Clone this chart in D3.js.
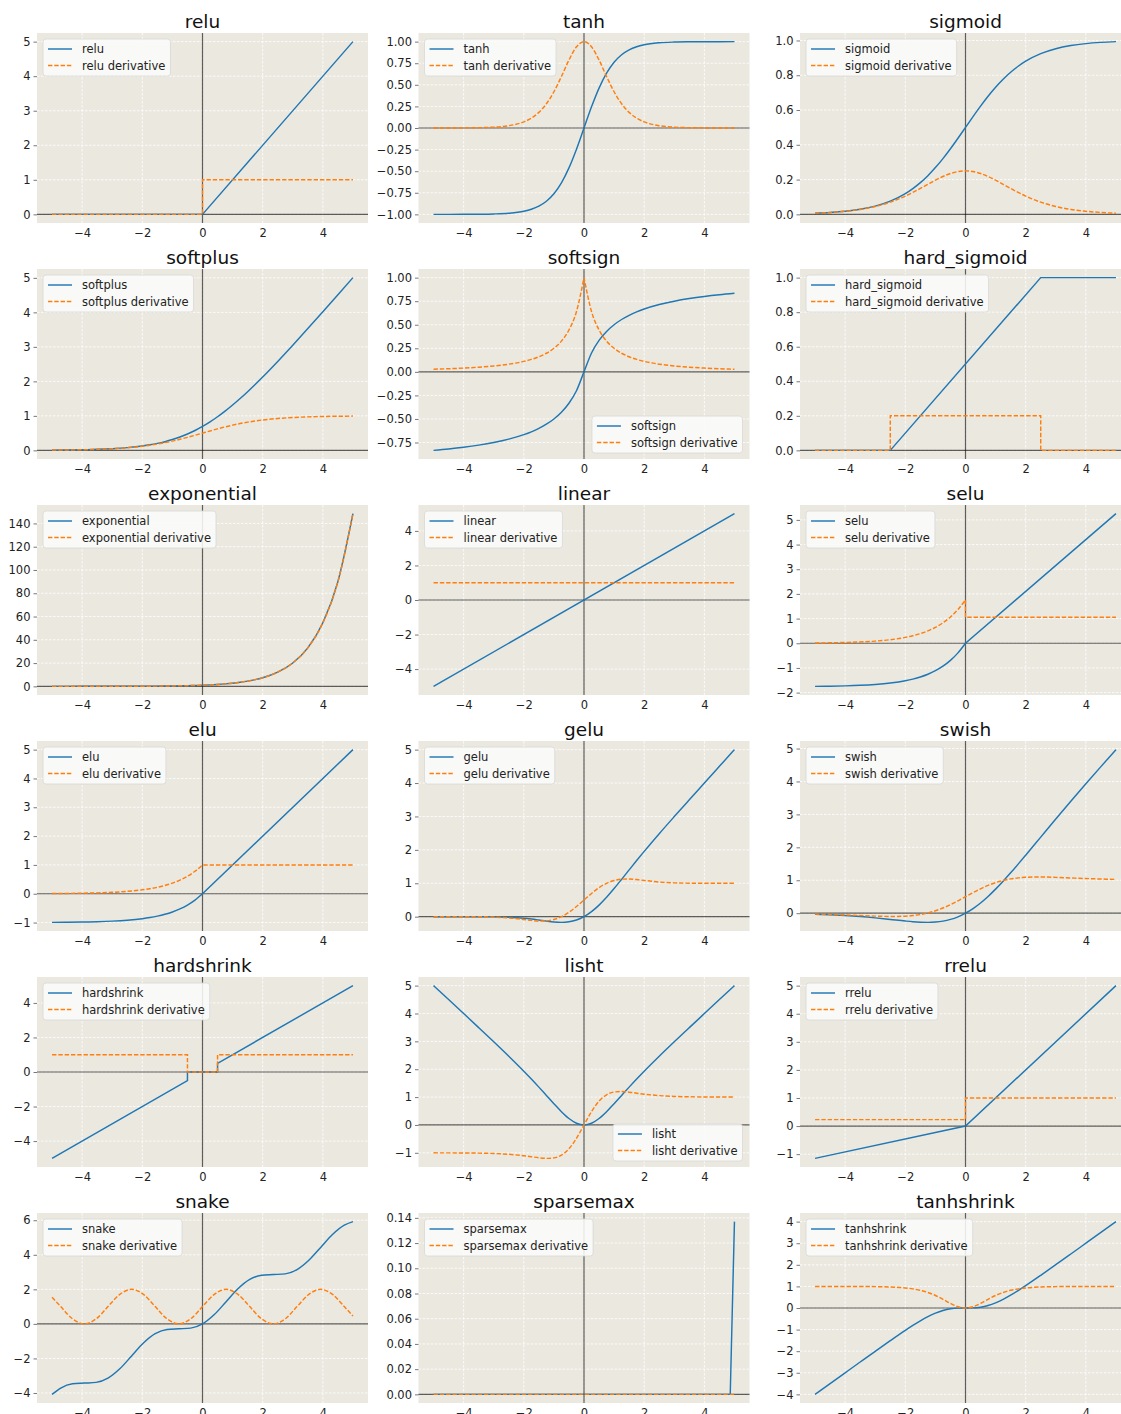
<!DOCTYPE html>
<html>
<head>
<meta charset="utf-8">
<script src="https://cdn.jsdelivr.net/npm/d3@7"></script>
<style>
  body { margin: 0; background: #fff; }
  svg { display: block; }
  text { font-family: "DejaVu Sans", "Liberation Sans", sans-serif; }
</style>
</head>
<body>
<svg id="fig" width="1121" height="1414"></svg>
<script>
// ---------- sample positions ----------
const xNeg = [-5, -4.5, -4, -3.5, -3, -2.5, -2, -1.75, -1.5, -1.25, -1, -0.75, -0.5, -0.25, 0];
const xPos = [0, 0.25, 0.5, 0.75, 1, 1.25, 1.5, 1.75, 2, 2.5, 3, 3.5, 4, 4.5, 5];
const xGrid = xNeg.concat(xPos.slice(1));          // smooth curves
const xSplit = xNeg.concat(xPos);                   // curves with a break at 0
const xTicks = [-4, -2, 0, 2, 4];

// ---------- relu ----------
const reluX = [-5, 0, 0, 5];
const reluY = [0, 0, 0, 5];
const reluDX = [-5, 0, 0, 5];
const reluDY = [0, 0, 1, 1];

// ---------- tanh ----------
const tanhY = [-0.9999, -0.9998, -0.9993, -0.9982, -0.9951, -0.9866, -0.9640, -0.9414, -0.9051, -0.8483, -0.7616, -0.6351, -0.4621, -0.2449, 0,
  0.2449, 0.4621, 0.6351, 0.7616, 0.8483, 0.9051, 0.9414, 0.9640, 0.9866, 0.9951, 0.9982, 0.9993, 0.9998, 0.9999];
const tanhDY = [0.0002, 0.0005, 0.0013, 0.0036, 0.0099, 0.0266, 0.0707, 0.1138, 0.1807, 0.2804, 0.4200, 0.5966, 0.7864, 0.9400, 1,
  0.9400, 0.7864, 0.5966, 0.4200, 0.2804, 0.1807, 0.1138, 0.0707, 0.0266, 0.0099, 0.0036, 0.0013, 0.0005, 0.0002];

// ---------- sigmoid ----------
const sigmoidY = [0.0067, 0.0110, 0.0180, 0.0293, 0.0474, 0.0759, 0.1192, 0.1481, 0.1824, 0.2227, 0.2689, 0.3208, 0.3775, 0.4378, 0.5,
  0.5622, 0.6225, 0.6792, 0.7311, 0.7773, 0.8176, 0.8519, 0.8808, 0.9241, 0.9526, 0.9707, 0.9820, 0.9890, 0.9933];
const sigmoidDY = [0.0066, 0.0109, 0.0177, 0.0284, 0.0452, 0.0701, 0.1050, 0.1262, 0.1491, 0.1731, 0.1966, 0.2179, 0.2350, 0.2461, 0.25,
  0.2461, 0.2350, 0.2179, 0.1966, 0.1731, 0.1491, 0.1262, 0.1050, 0.0701, 0.0452, 0.0284, 0.0177, 0.0109, 0.0066];

// ---------- softplus ----------
const softplusY = [0.0067, 0.0110, 0.0181, 0.0298, 0.0486, 0.0789, 0.1269, 0.1602, 0.2014, 0.2519, 0.3133, 0.3869, 0.4741, 0.5759, 0.6931,
  0.8259, 0.9741, 1.1369, 1.3133, 1.5019, 1.7014, 1.9102, 2.1269, 2.5789, 3.0486, 3.5298, 4.0181, 4.5110, 5.0067];
const softplusDY = [0.0067, 0.0110, 0.0180, 0.0293, 0.0474, 0.0759, 0.1192, 0.1481, 0.1824, 0.2227, 0.2689, 0.3208, 0.3775, 0.4378, 0.5,
  0.5622, 0.6225, 0.6792, 0.7311, 0.7773, 0.8176, 0.8519, 0.8808, 0.9241, 0.9526, 0.9707, 0.9820, 0.9890, 0.9933];

// ---------- softsign ----------
const softsignY = [-0.8333, -0.8182, -0.8, -0.7778, -0.75, -0.7143, -0.6667, -0.6364, -0.6, -0.5556, -0.5, -0.4286, -0.3333, -0.2, 0,
  0.2, 0.3333, 0.4286, 0.5, 0.5556, 0.6, 0.6364, 0.6667, 0.7143, 0.75, 0.7778, 0.8, 0.8182, 0.8333];
const softsignDY = [0.0278, 0.0331, 0.04, 0.0494, 0.0625, 0.0816, 0.1111, 0.1322, 0.16, 0.1975, 0.25, 0.3265, 0.4444, 0.64, 1,
  1, 0.64, 0.4444, 0.3265, 0.25, 0.1975, 0.16, 0.1322, 0.1111, 0.0816, 0.0625, 0.0494, 0.04, 0.0331, 0.0278];

// ---------- hard_sigmoid ----------
const hardSigmoidX = [-5, -2.5, -2.5, 2.5, 2.5, 5];
const hardSigmoidY = [0, 0, 0, 1, 1, 1];
const hardSigmoidDY = [0, 0, 0.2, 0.2, 0, 0];

// ---------- exponential ----------
const expY = [0.0067, 0.0111, 0.0183, 0.0302, 0.0498, 0.0821, 0.1353, 0.1738, 0.2231, 0.2865, 0.3679, 0.4724, 0.6065, 0.7788, 1,
  1.2840, 1.6487, 2.1170, 2.7183, 3.4903, 4.4817, 5.7546, 7.3891, 12.1825, 20.0855, 33.1155, 54.5982, 90.0171, 148.4132];
const expDY = [0.0067, 0.0111, 0.0183, 0.0302, 0.0498, 0.0821, 0.1353, 0.1738, 0.2231, 0.2865, 0.3679, 0.4724, 0.6065, 0.7788, 1,
  1.2840, 1.6487, 2.1170, 2.7183, 3.4903, 4.4817, 5.7546, 7.3891, 12.1825, 20.0855, 33.1155, 54.5982, 90.0171, 148.4132];

// ---------- linear ----------
const linearX = [-5, 5];
const linearY = [-5, 5];
const linearDY = [1, 1];

// ---------- selu ----------
const seluX = xNeg.concat([0, 5]);
const seluY = [-1.7463, -1.7386, -1.7259, -1.7050, -1.6705, -1.6138, -1.5202, -1.4525, -1.3659, -1.2544, -1.1113, -0.9276, -0.6918, -0.3889, 0,
  0, 5.2535];
const seluDY = [0.0118, 0.0195, 0.0322, 0.0531, 0.0876, 0.1443, 0.2379, 0.3055, 0.3923, 0.5037, 0.6468, 0.8305, 1.0663, 1.3692, 1.7581,
  1.0507, 1.0507];

// ---------- elu ----------
const eluX = xNeg.concat([0, 5]);
const eluY = [-0.9933, -0.9889, -0.9817, -0.9698, -0.9502, -0.9179, -0.8647, -0.8262, -0.7769, -0.7135, -0.6321, -0.5276, -0.3935, -0.2212, 0,
  0, 5];
const eluDY = [0.0067, 0.0111, 0.0183, 0.0302, 0.0498, 0.0821, 0.1353, 0.1738, 0.2231, 0.2865, 0.3679, 0.4724, 0.6065, 0.7788, 1,
  1, 1];

// ---------- gelu ----------
const geluY = [0, 0, -0.0001, -0.0008, -0.0040, -0.0155, -0.0455, -0.0702, -0.1002, -0.1320, -0.1587, -0.1699, -0.1543, -0.1003, 0,
  0.1497, 0.3457, 0.5801, 0.8413, 1.1180, 1.3998, 1.6798, 1.9545, 2.4845, 2.9960, 3.4992, 3.9999, 4.5, 5];
const geluDY = [0, 0, -0.0005, -0.0030, -0.0119, -0.0376, -0.0852, -0.1109, -0.1275, -0.1227, -0.0833, 0.0008, 0.1325, 0.3046, 0.5,
  0.6954, 0.8675, 0.9992, 1.0833, 1.1227, 1.1275, 1.1109, 1.0852, 1.0376, 1.0119, 1.0030, 1.0005, 1.0, 1];

// ---------- swish ----------
const swishY = [-0.0335, -0.0495, -0.0719, -0.1025, -0.1423, -0.1897, -0.2384, -0.2592, -0.2736, -0.2784, -0.2689, -0.2406, -0.1888, -0.1094, 0,
  0.1406, 0.3112, 0.5094, 0.7311, 0.9716, 1.2264, 1.4908, 1.7616, 2.3103, 2.8577, 3.3975, 3.9281, 4.4505, 4.9665];
const swishDY = [-0.0263, -0.0381, -0.0528, -0.0701, -0.0882, -0.0994, -0.0908, -0.0728, -0.0413, 0.0063, 0.0723, 0.1574, 0.2600, 0.3763, 0.5,
  0.6237, 0.7400, 0.8426, 0.9277, 0.9937, 1.0413, 1.0728, 1.0908, 1.0994, 1.0882, 1.0701, 1.0528, 1.0381, 1.0263];

// ---------- hardshrink ----------
const hardshrinkX = [-5, -0.5, -0.5, 0.5, 0.5, 5];
const hardshrinkY = [-5, -0.5, 0, 0, 0.5, 5];
const hardshrinkDY = [1, 1, 0, 0, 1, 1];

// ---------- lisht ----------
const lishtY = [4.9995, 4.4991, 3.9973, 3.4937, 2.9852, 2.4665, 1.9281, 1.6475, 1.3577, 1.0604, 0.7616, 0.4763, 0.2311, 0.0612, 0,
  0.0612, 0.2311, 0.4763, 0.7616, 1.0604, 1.3577, 1.6475, 1.9281, 2.4665, 2.9852, 3.4937, 3.9973, 4.4991, 4.9995];
const lishtDY = [-1.0008, -1.0020, -1.0047, -1.0107, -1.0247, -1.0531, -1.1053, -1.1406, -1.1762, -1.1988, -1.1816, -1.0826, -0.8553, -0.4799, 0,
  0.4799, 0.8553, 1.0826, 1.1816, 1.1988, 1.1762, 1.1406, 1.1053, 1.0531, 1.0247, 1.0107, 1.0047, 1.0020, 1.0008];

// ---------- rrelu ----------
const rreluX = [-5, 0, 0, 5];
const rreluY = [-1.15, 0, 0, 5];
const rreluDY = [0.23, 0.23, 1, 1];

// ---------- snake ----------
const snakeX = [-5, -4.7124, -4.3197, -3.9270, -3.5343, -3.1416, -2.7489, -2.3562, -1.9635, -1.5708, -1.1781, -0.7854, -0.3927, 0,
  0.3927, 0.7854, 1.1781, 1.5708, 1.9635, 2.3562, 2.7489, 3.1416, 3.5343, 3.9270, 4.3197, 4.7124, 5];
const snakeY = [-4.0805, -3.7124, -3.4661, -3.4270, -3.3879, -3.1416, -2.6025, -1.8562, -1.1099, -0.5708, -0.3245, -0.2854, -0.2463, 0,
  0.5391, 1.2854, 2.0317, 2.5708, 2.8171, 2.8562, 2.8953, 3.1416, 3.6807, 4.4270, 5.1733, 5.7124, 5.9195];
const snakeDY = [1.5440, 1, 0.2929, 0, 0.2929, 1, 1.7071, 2, 1.7071, 1, 0.2929, 0, 0.2929, 1,
  1.7071, 2, 1.7071, 1, 0.2929, 0, 0.2929, 1, 1.7071, 2, 1.7071, 1, 0.4560];

// ---------- sparsemax ----------
const sparsemaxX = [-5, 4.86, 4.86, 5];
const sparsemaxY = [0, 0, 0, 0.137];
const sparsemaxDX = [-5, 5];
const sparsemaxDY = [0, 0];

// ---------- tanhshrink ----------
const tanhshrinkY = [-4.0001, -3.5002, -3.0007, -2.5018, -2.0049, -1.5134, -1.0360, -0.8086, -0.5949, -0.4017, -0.2384, -0.1149, -0.0379, -0.0051, 0,
  0.0051, 0.0379, 0.1149, 0.2384, 0.4017, 0.5949, 0.8086, 1.0360, 1.5134, 2.0049, 2.5018, 3.0007, 3.5002, 4.0001];
const tanhshrinkDY = [0.9998, 0.9995, 0.9987, 0.9964, 0.9901, 0.9734, 0.9293, 0.8862, 0.8193, 0.7196, 0.5800, 0.4034, 0.2135, 0.0600, 0,
  0.0600, 0.2135, 0.4034, 0.5800, 0.7196, 0.8193, 0.8862, 0.9293, 0.9734, 0.9901, 0.9964, 0.9987, 0.9995, 0.9998];

// ---------- y tick labels ----------
const ticksZeroToFive = [0, 1, 2, 3, 4, 5];
const ticksTanh = [-1, -0.75, -0.5, -0.25, 0, 0.25, 0.5, 0.75, 1];
const ticksUnit = [0, 0.2, 0.4, 0.6, 0.8, 1];
const ticksSoftsign = [-0.75, -0.5, -0.25, 0, 0.25, 0.5, 0.75, 1];
const ticksExp = [0, 20, 40, 60, 80, 100, 120, 140];
const ticksEven = [-4, -2, 0, 2, 4];
const ticksSelu = [-2, -1, 0, 1, 2, 3, 4, 5];
const ticksMinusOneToFive = [-1, 0, 1, 2, 3, 4, 5];
const ticksSnake = [-4, -2, 0, 2, 4, 6];
const ticksSparsemax = [0, 0.02, 0.04, 0.06, 0.08, 0.1, 0.12, 0.14];
const ticksTanhshrink = [-4, -3, -2, -1, 0, 1, 2, 3, 4];

// panel table: name, function samples, derivative samples, y ticks, decimals, legend corner
const panels = [
  { name: "relu", fx: reluX, fy: reluY, dx: reluDX, dy: reluDY, ticks: ticksZeroToFive, dec: 0, loc: "ul" },
  { name: "tanh", fx: xGrid, fy: tanhY, dx: xGrid, dy: tanhDY, ticks: ticksTanh, dec: 2, loc: "ul" },
  { name: "sigmoid", fx: xGrid, fy: sigmoidY, dx: xGrid, dy: sigmoidDY, ticks: ticksUnit, dec: 1, loc: "ul" },
  { name: "softplus", fx: xGrid, fy: softplusY, dx: xGrid, dy: softplusDY, ticks: ticksZeroToFive, dec: 0, loc: "ul" },
  { name: "softsign", fx: xGrid, fy: softsignY, dx: xSplit, dy: softsignDY, ticks: ticksSoftsign, dec: 2, loc: "lr" },
  { name: "hard_sigmoid", fx: hardSigmoidX, fy: hardSigmoidY, dx: hardSigmoidX, dy: hardSigmoidDY, ticks: ticksUnit, dec: 1, loc: "ul" },
  { name: "exponential", fx: xGrid, fy: expY, dx: xGrid, dy: expDY, ticks: ticksExp, dec: 0, loc: "ul" },
  { name: "linear", fx: linearX, fy: linearY, dx: linearX, dy: linearDY, ticks: ticksEven, dec: 0, loc: "ul" },
  { name: "selu", fx: seluX, fy: seluY, dx: seluX, dy: seluDY, ticks: ticksSelu, dec: 0, loc: "ul" },
  { name: "elu", fx: eluX, fy: eluY, dx: eluX, dy: eluDY, ticks: ticksMinusOneToFive, dec: 0, loc: "ul" },
  { name: "gelu", fx: xGrid, fy: geluY, dx: xGrid, dy: geluDY, ticks: ticksZeroToFive, dec: 0, loc: "ul" },
  { name: "swish", fx: xGrid, fy: swishY, dx: xGrid, dy: swishDY, ticks: ticksZeroToFive, dec: 0, loc: "ul" },
  { name: "hardshrink", fx: hardshrinkX, fy: hardshrinkY, dx: hardshrinkX, dy: hardshrinkDY, ticks: ticksEven, dec: 0, loc: "ul" },
  { name: "lisht", fx: xGrid, fy: lishtY, dx: xGrid, dy: lishtDY, ticks: ticksMinusOneToFive, dec: 0, loc: "lr" },
  { name: "rrelu", fx: rreluX, fy: rreluY, dx: rreluX, dy: rreluDY, ticks: ticksMinusOneToFive, dec: 0, loc: "ul" },
  { name: "snake", fx: snakeX, fy: snakeY, dx: snakeX, dy: snakeDY, ticks: ticksSnake, dec: 0, loc: "ul" },
  { name: "sparsemax", fx: sparsemaxX, fy: sparsemaxY, dx: sparsemaxDX, dy: sparsemaxDY, ticks: ticksSparsemax, dec: 2, loc: "ul" },
  { name: "tanhshrink", fx: xGrid, fy: tanhshrinkY, dx: xGrid, dy: tanhshrinkDY, ticks: ticksTanhshrink, dec: 0, loc: "ul" }
];

// ---------- layout & style ----------
const W = 331, H = 190;
const COL_STEP = 381.5, ROW_STEP = 236, LEFT0 = 37, TOP0 = 33;
const BG = "#ebe8e0";
const BLUE = "#1f77b4", ORANGE = "#ff7f0e";
const DASH = "4.4,1.9";
const LW = 1.45;

const svg = d3.select("#fig");
svg.append("rect").attr("width", 1121).attr("height", 1414).attr("fill", "#fff");

const minus = s => s.replace(/-/g, "\u2212");

// one path through all pieces; a repeated x value starts a new piece that is
// joined to the previous one with a straight segment (jumps and kinks)
function buildPath(xs, ys, xs_, ys_) {
  const pieces = [];
  let cur = [];
  xs.forEach((xv, i) => {
    if (i > 0 && xv === xs[i - 1]) { pieces.push(cur); cur = []; }
    cur.push([xs_(xv), ys_(ys[i])]);
  });
  pieces.push(cur);
  const gen = d3.line().curve(d3.curveMonotoneX);
  return pieces.map((p, i) => {
    let d = gen(p).replace(/Z$/, "");
    return i === 0 ? d : "L" + d.slice(1);
  }).join("");
}

panels.forEach((p, idx) => {
  const col = idx % 3, row = Math.floor(idx / 3);
  const L = LEFT0 + col * COL_STEP, T = TOP0 + row * ROW_STEP;
  const g = svg.append("g").attr("transform", `translate(${L},${T})`);

  // autoscaled y range with 5% margins (zero line included)
  const all = p.fy.concat(p.dy, [0]);
  const lo = d3.min(all), hi = d3.max(all), m = (hi - lo) * 0.05;
  const x = d3.scaleLinear().domain([-5.5, 5.5]).range([0, W]);
  const y = d3.scaleLinear().domain([lo - m, hi + m]).range([H, 0]);

  const clipId = "clip" + idx;
  g.append("clipPath").attr("id", clipId).append("rect").attr("width", W).attr("height", H);

  g.append("rect").attr("width", W).attr("height", H).attr("fill", BG);

  // grid
  const grid = g.append("g").attr("stroke", "#fff").attr("stroke-width", 0.8)
    .attr("stroke-dasharray", "2.5,1.5");
  grid.selectAll(".gx").data(xTicks).join("line")
    .attr("x1", d => x(d)).attr("x2", d => x(d)).attr("y1", 0).attr("y2", H);
  grid.selectAll(".gy").data(p.ticks).join("line")
    .attr("y1", d => y(d)).attr("y2", d => y(d)).attr("x1", 0).attr("x2", W);

  // y axis
  const fmt = d3.format(`.${p.dec}f`);
  const yAxis = d3.axisLeft(y).tickValues(p.ticks).tickSize(3.5).tickPadding(3)
    .tickFormat(d => minus(fmt(d)));
  const ya = g.append("g").call(yAxis);
  ya.select(".domain").remove();
  ya.selectAll(".tick line").attr("stroke", "#555").attr("stroke-width", 0.8);
  ya.selectAll(".tick text").attr("fill", "#222").style("font-size", "11.5px")
    .style("font-family", '"DejaVu Sans", sans-serif');

  // x axis
  const xAxis = d3.axisBottom(x).tickValues(xTicks).tickSize(0).tickPadding(6)
    .tickFormat(d => minus(d3.format("d")(d)));
  const xa = g.append("g").attr("transform", `translate(0,${H})`).call(xAxis);
  xa.select(".domain").remove();
  xa.selectAll(".tick text").attr("fill", "#222").style("font-size", "11.5px")
    .style("font-family", '"DejaVu Sans", sans-serif');

  // zero lines
  const zl = g.append("g").attr("stroke", "#000").attr("stroke-opacity", 0.62).attr("stroke-width", 1.2);
  zl.append("line").attr("x1", 0).attr("x2", W).attr("y1", y(0)).attr("y2", y(0));
  zl.append("line").attr("x1", x(0)).attr("x2", x(0)).attr("y1", 0).attr("y2", H);

  // curves
  const curves = g.append("g").attr("clip-path", `url(#${clipId})`).attr("fill", "none");
  curves.append("path").attr("d", buildPath(p.fx, p.fy, x, y))
    .attr("stroke", BLUE).attr("stroke-width", LW);
  curves.append("path").attr("d", buildPath(p.dx, p.dy, x, y))
    .attr("stroke", ORANGE).attr("stroke-width", LW).attr("stroke-dasharray", DASH);

  // title
  g.append("text").attr("x", W / 2).attr("y", -5).attr("text-anchor", "middle")
    .style("font-size", "18.5px").attr("fill", "#111").text(p.name);

  // legend
  const lg = g.append("g");
  const box = lg.append("rect").attr("rx", 3).attr("ry", 3)
    .attr("fill", "#fbfbf9").attr("fill-opacity", 0.88)
    .attr("stroke", "#d8d8d8").attr("stroke-width", 0.8);
  const labels = [p.name, p.name + " derivative"];
  let maxW = 0;
  labels.forEach((lab, i) => {
    const cy = 10 + i * 16.5;
    lg.append("line").attr("x1", 5).attr("x2", 29).attr("y1", cy).attr("y2", cy)
      .attr("stroke", i === 0 ? BLUE : ORANGE).attr("stroke-width", LW)
      .attr("stroke-dasharray", i === 0 ? null : DASH);
    const t = lg.append("text").attr("x", 39).attr("y", cy + 4.2)
      .style("font-size", "11.5px").attr("fill", "#222").text(lab);
    maxW = Math.max(maxW, t.node().getComputedTextLength());
  });
  const bw = 39 + maxW + 5, bh = 37;
  box.attr("width", bw).attr("height", bh);
  if (p.loc === "ul") {
    lg.attr("transform", `translate(6,6)`);
  } else {
    lg.attr("transform", `translate(${W - 7 - bw},${H - 6 - bh})`);
  }
});
</script>
</body>
</html>
